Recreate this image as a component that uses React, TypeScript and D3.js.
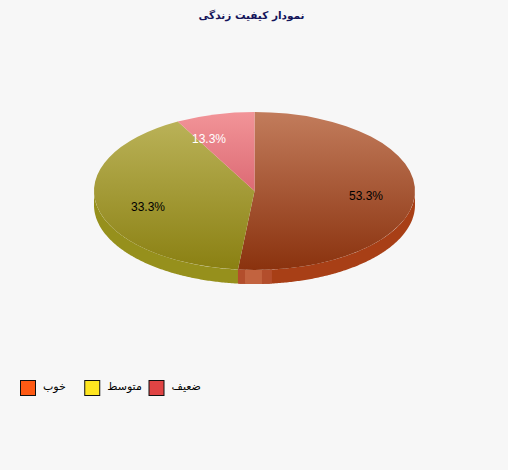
import React from 'react';
import * as d3 from 'd3';

const sliceLabels = ['53.3%', '33.3%', '13.3%'];
const sliceValues = [53.3, 33.4, 13.3];
const sliceTop = ['#c27c5c', '#bdb55c', '#f29498'];
const sliceBottom = ['#8a320e', '#8a8012', '#dc6a74'];
const sliceSide = ['#a83f16', '#96901c', '#c86a6a'];
const labelColors = ['#000', '#000', '#fff'];
const labelPos: [number, number][] = [[366, 196], [148, 207], [209, 139]];

const legendNames = ['خوب', 'متوسط', 'ضعيف'];
const legendColors = ['#ff5a14', '#ffe620', '#e04444'];

const width = 508;
const height = 470;
const cx = 254.5;
const cy = 191;
const rx = 160.5;
const ry = 79;
const depth = 14;

// chart angles are real screen angles, d3.arc draws on a circle squashed by scale
const toCircle = (a: number) => {
  const t = Math.atan2(Math.sin(a) / rx, Math.cos(a) / ry);
  return t + 2 * Math.PI * Math.round((a - t) / (2 * Math.PI));
};

const App: React.FC = () => {
  const pie = d3.pie<number>().sort(null);
  const slices = pie(sliceValues);
  const arc = d3.arc<{ startAngle: number; endAngle: number }>().innerRadius(0).outerRadius(rx);
  const legendX = d3.scalePoint<number>().domain([0, 1, 2]).range([20, 148.5]);
  const sy = ry / rx;

  // front wall of a slice between two circle angles
  const wall = (a0: number, a1: number) => {
    const from = Math.max(a0, Math.PI / 2);
    const to = Math.min(a1, (3 * Math.PI) / 2);
    if (from >= to) return '';
    const pts = d3.range(from, to, 0.01).concat(to);
    const px = (t: number) => cx + rx * Math.sin(t);
    const py = (t: number) => cy - ry * Math.cos(t);
    const top = pts.map(t => `${px(t)},${py(t)}`);
    const bottom = pts.slice().reverse().map(t => `${px(t)},${py(t) + depth}`);
    return `M${top.join('L')}L${bottom.join('L')}Z`;
  };

  const seam = cx + rx * Math.sin(toCircle(slices[0].endAngle));

  return (
    <svg
      width={width}
      height={height}
      style={{ position: 'absolute', left: 0, top: 0, display: 'block', background: '#f7f7f7' }}
    >
      <defs>
        {/* gradients live in the squashed group's coordinates */}
        {slices.map((_, i) => (
          <linearGradient key={i} id={`top${i}`} gradientUnits="userSpaceOnUse" x1="0" x2="0" y1={-rx} y2={i === 2 ? 0 : rx}>
            <stop offset="0" stopColor={sliceTop[i]} />
            <stop offset="1" stopColor={sliceBottom[i]} />
          </linearGradient>
        ))}
        <clipPath id="front">
          <path d={wall(Math.PI / 2, (3 * Math.PI) / 2)} />
        </clipPath>
      </defs>

      <text
        x={251.5}
        y={19}
        textAnchor="middle"
        direction="rtl"
        fontFamily="'DejaVu Sans', sans-serif"
        fontWeight="bold"
        fontSize={10.5}
        fill="#14145a"
      >
        نمودار كيفيت زندگی
      </text>

      {slices.map((d, i) => (
        <path key={i} d={wall(toCircle(d.startAngle), toCircle(d.endAngle))} fill={sliceSide[i]} />
      ))}

      <g clipPath="url(#front)">
        <rect x={seam} y={cy + 60} width={34} height={40} fill="#b34e2c" />
        <rect x={seam + 7} y={cy + 60} width={17} height={40} fill="#c2633f" />
      </g>

      <g transform={`translate(${cx},${cy}) scale(1,${sy})`}>
        {slices.map((d, i) => (
          <path
            key={i}
            d={arc({ startAngle: toCircle(d.startAngle), endAngle: toCircle(d.endAngle) }) || ''}
            fill={`url(#top${i})`}
          />
        ))}
      </g>

      {sliceLabels.map((t, i) => (
        <text
          key={i}
          x={labelPos[i][0]}
          y={labelPos[i][1]}
          dy="0.35em"
          textAnchor="middle"
          fontFamily="'Liberation Sans', sans-serif"
          fontSize={12}
          fill={labelColors[i]}
        >
          {t}
        </text>
      ))}

      {legendNames.map((name, i) => (
        <g key={name} transform={`translate(${legendX(i)},380)`}>
          <rect x={0.5} y={0.5} width={15} height={15} fill={legendColors[i]} stroke="#111" />
          <text
            x={23}
            y={10}
            fontFamily="'DejaVu Sans', sans-serif"
            fontSize={11}
            fill="#000"
          >
            {name}
          </text>
        </g>
      ))}
    </svg>
  );
};

export default App;
